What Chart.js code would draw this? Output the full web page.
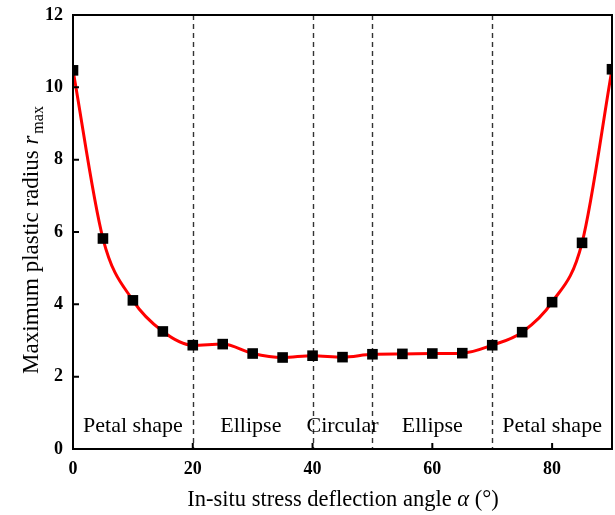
<!DOCTYPE html>
<html>
<head>
<meta charset="utf-8">
<script src="https://cdn.jsdelivr.net/npm/chart.js@4"></script>
<style>
  html, body { margin: 0; padding: 0; background: #fff; }
  #wrap { width: 615px; height: 515px; position: relative; }
</style>
</head>
<body>
<div id="wrap"><canvas id="c"></canvas></div>
<script>
// data
const angles = [0, 5, 10, 15, 20, 25, 30, 35, 40, 45, 50, 55, 60, 65, 70, 75, 80, 85, 90];
const rmax = [10.47, 5.82, 4.11, 3.25, 2.87, 2.90, 2.64, 2.53, 2.58, 2.54, 2.62, 2.63, 2.64, 2.65, 2.87, 3.23, 4.06, 5.70, 10.50];
const xTicks = [0, 20, 40, 60, 80];
const yTicks = [0, 2, 4, 6, 8, 10, 12];
const dividers = [20, 40, 50, 70];
const zoneNames = ['Petal shape', 'Ellipse', 'Circular', 'Ellipse', 'Petal shape'];
const zoneCenters = [10, 29.7, 45, 60, 80];

const SERIF = "'Liberation Serif', 'Times New Roman', serif";

const decor = {
  id: 'decor',
  beforeDatasetsDraw(chart) {
    const {ctx, chartArea: a, scales: {x, y}} = chart;
    ctx.save();
    // dashed dividers
    ctx.strokeStyle = '#333';
    ctx.lineWidth = 1.4;
    ctx.setLineDash([5, 4]);
    dividers.forEach(v => {
      const px = Math.round(x.getPixelForValue(v)) + 0.5;
      ctx.beginPath(); ctx.moveTo(px, a.top); ctx.lineTo(px, a.bottom); ctx.stroke();
    });
    ctx.setLineDash([]);
    // zone labels
    ctx.fillStyle = '#000';
    ctx.font = '22px ' + SERIF;
    ctx.textAlign = 'center';
    ctx.textBaseline = 'alphabetic';
    zoneNames.forEach((t, i) => ctx.fillText(t, x.getPixelForValue(zoneCenters[i]), 432));
    ctx.restore();
  },
  afterDraw(chart) {
    const {ctx, chartArea: a, scales: {x, y}} = chart;
    ctx.save();
    ctx.strokeStyle = '#000';
    ctx.lineWidth = 2;
    ctx.strokeRect(a.left, a.top, a.right - a.left, a.bottom - a.top);
    // inward ticks
    ctx.beginPath();
    xTicks.forEach(v => {
      const px = x.getPixelForValue(v);
      ctx.moveTo(px, a.bottom); ctx.lineTo(px, a.bottom - 6);
    });
    yTicks.forEach(v => {
      const py = y.getPixelForValue(v);
      ctx.moveTo(a.left, py); ctx.lineTo(a.left + 6, py);
    });
    ctx.stroke();

    // x title
    ctx.fillStyle = '#000';
    ctx.textBaseline = 'alphabetic';
    const nFont = '22.5px ' + SERIF, iFont = 'italic 22.5px ' + SERIF;
    ctx.font = nFont;
    const p1 = 'In-situ stress deflection angle ', p3 = ' (°)';
    const w1 = ctx.measureText(p1).width, w3 = ctx.measureText(p3).width;
    ctx.font = iFont; const w2 = ctx.measureText('α').width;
    let sx = 343 - (w1 + w2 + w3) / 2;
    ctx.textAlign = 'left';
    ctx.font = nFont; ctx.fillText(p1, sx, 506); sx += w1;
    ctx.font = iFont; ctx.fillText('α', sx, 506); sx += w2;
    ctx.font = nFont; ctx.fillText(p3, sx, 506);

    // y title (rotated)
    ctx.translate(38, 240);
    ctx.rotate(-Math.PI / 2);
    const q1 = 'Maximum plastic radius ';
    const yFont = '23px ' + SERIF, yIFont = 'italic 23px ' + SERIF, subFont = '16px ' + SERIF;
    ctx.font = yFont; const v1 = ctx.measureText(q1).width;
    ctx.font = yIFont; const v2 = ctx.measureText('r').width;
    ctx.font = subFont; const v3 = ctx.measureText('max').width;
    let ty = -(v1 + v2 + 2 + v3) / 2;
    ctx.font = yFont; ctx.fillText(q1, ty, 0); ty += v1;
    ctx.font = yIFont; ctx.fillText('r', ty, 0); ty += v2 + 2;
    ctx.font = subFont; ctx.fillText('max', ty, 5);
    ctx.restore();
  }
};

new Chart(document.getElementById('c'), {
  type: 'line',
  data: {
    labels: angles,
    datasets: [{
      data: angles.map((a, i) => ({x: a, y: rmax[i]})),
      borderColor: '#ff0000',
      borderWidth: 3,
      cubicInterpolationMode: 'monotone',
      pointStyle: 'rect',
      pointRadius: 7.5,
      pointBackgroundColor: '#000',
      pointBorderColor: '#000',
      pointBorderWidth: 0,
      clip: 0
    }]
  },
  options: {
    responsive: true,
    maintainAspectRatio: false,
    animation: false,
    layout: {autoPadding: false, padding: {top: 15, right: 3, left: 0, bottom: 0}},
    plugins: {legend: {display: false}, tooltip: {enabled: false}},
    scales: {
      x: {
        type: 'linear', min: 0, max: 90,
        afterBuildTicks: s => { s.ticks = xTicks.map(v => ({value: v})); },
        afterFit: s => { s.height = 66; s.paddingLeft = 0; s.paddingRight = 0; },
        grid: {drawOnChartArea: false, drawTicks: false},
        border: {display: true, color: '#000', width: 2},
        ticks: {color: '#000', padding: 10, maxRotation: 0, font: {family: SERIF, size: 18, weight: 'bold'}}
      },
      y: {
        min: 0, max: 12,
        afterBuildTicks: s => { s.ticks = yTicks.map(v => ({value: v})); },
        afterFit: s => { s.width = 73; s.paddingTop = 0; s.paddingBottom = 0; },
        grid: {drawOnChartArea: false, drawTicks: false},
        border: {display: true, color: '#000', width: 2},
        ticks: {color: '#000', padding: 10, font: {family: SERIF, size: 18, weight: 'bold'}}
      }
    }
  },
  plugins: [decor]
});
</script>
</body>
</html>
